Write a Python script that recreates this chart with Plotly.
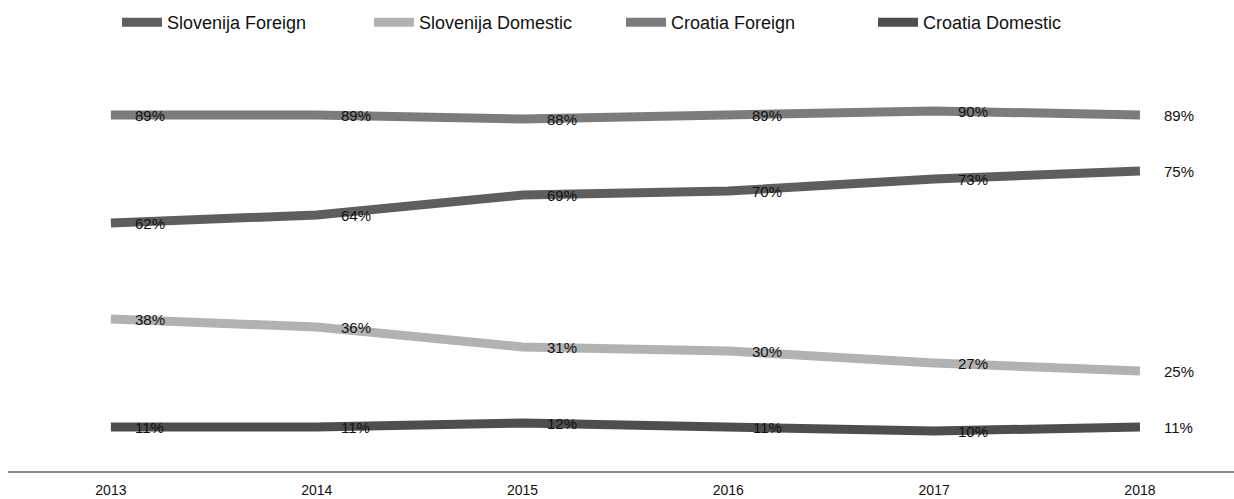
import plotly.graph_objects as go

years = ["2013", "2014", "2015", "2016", "2017", "2018"]
slo_foreign = [62, 64, 69, 70, 73, 75]
slo_domestic = [38, 36, 31, 30, 27, 25]
cro_foreign = [89, 89, 88, 89, 90, 89]
cro_domestic = [11, 11, 12, 11, 10, 11]

series = [
    ("Slovenija Foreign", slo_foreign, "#5e5e5e"),
    ("Slovenija Domestic", slo_domestic, "#b2b2b2"),
    ("Croatia Foreign", cro_foreign, "#7c7c7c"),
    ("Croatia Domestic", cro_domestic, "#4e4e4e"),
]

fig = go.Figure()
annotations = []
for name, vals, color in series:
    fig.add_trace(go.Scatter(
        x=list(range(len(years))), y=vals, name=name, mode="lines",
        line=dict(color=color, width=9), hoverinfo="skip",
    ))
    for i, v in enumerate(vals):
        annotations.append(dict(
            x=i, y=v, xref="x", yref="y", text=f"{v}%", showarrow=False,
            xshift=39, xanchor="center", yanchor="middle",
            font=dict(family="Liberation Sans, Arial", size=15, color="#111111"),
        ))

fig.update_layout(
    width=1234, height=499,
    margin=dict(l=8, r=0, t=71, b=28),
    plot_bgcolor="white", paper_bgcolor="white",
    showlegend=True,
    legend=dict(orientation="h", x=0.5, xanchor="center", y=0.992, yref="container",
                yanchor="top", font=dict(family="Liberation Sans, Arial", size=18, color="#111111"),
                itemwidth=40, entrywidth=197, entrywidthmode="pixels", tracegroupgap=0),
    annotations=annotations,
    xaxis=dict(range=[-0.5, 5.457], tickmode="array", tickvals=list(range(len(years))),
               ticktext=years, showgrid=False, zeroline=False,
               showline=True, linecolor="#8c8c8c", linewidth=2,
               tickfont=dict(family="Liberation Sans, Arial", size=14, color="#111111"),
               ticks="", ticklabelstandoff=5),
    yaxis=dict(range=[0, 100], visible=False, showgrid=False, zeroline=False),
)

fig.write_html("out.html")
